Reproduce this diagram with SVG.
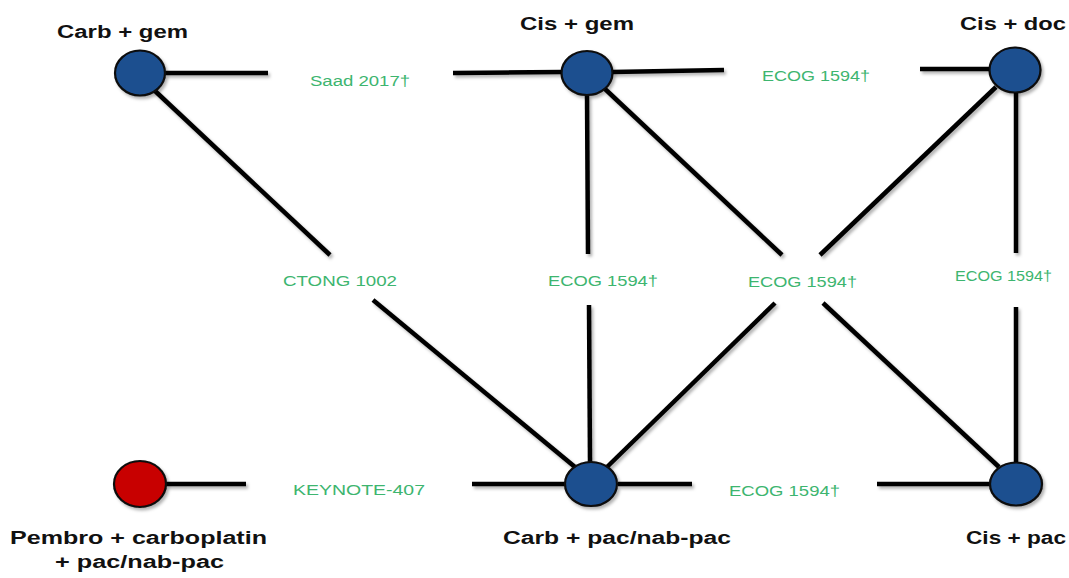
<svg xmlns="http://www.w3.org/2000/svg" width="1069" height="578" viewBox="0 0 1069 578">
  <defs>
    <filter id="sh" x="-20%" y="-20%" width="140%" height="140%">
      <feDropShadow dx="2" dy="2.5" stdDeviation="1.5" flood-color="#000" flood-opacity="0.3"/>
    </filter>
  </defs>
  <style>
    .edge { stroke: #000; stroke-width: 4.5; fill: none; stroke-linecap: butt; }
    .node { fill: #1d4f8f; stroke: #0a0a0a; stroke-width: 2.2; }
    .pem { fill: #c80000; stroke: #0a0a0a; stroke-width: 2.2; }
    .lbl { font-family: "Liberation Sans", Arial, sans-serif; font-weight: bold; font-size: 18px; fill: #111; }
    .trial { font-family: "Liberation Sans", Arial, sans-serif; font-size: 15.5px; fill: #3db56f; }
  </style>
  <rect width="1069" height="578" fill="#fff"/>

  <g id="connectors" filter="url(#sh)">
    <!-- Carb+gem — Cis+gem (Saad 2017) -->
    <line class="edge" x1="165" y1="73" x2="268" y2="73"/>
    <line class="edge" x1="453" y1="73" x2="562" y2="72"/>
    <!-- Cis+gem — Cis+doc -->
    <line class="edge" x1="612" y1="72" x2="724" y2="70"/>
    <line class="edge" x1="920" y1="69" x2="990" y2="69"/>
    <!-- Carb+gem — Carb+pac (CTONG 1002) -->
    <line class="edge" x1="154" y1="90" x2="330" y2="255"/>
    <line class="edge" x1="373" y1="300" x2="575" y2="467"/>
    <!-- Cis+gem — Carb+pac -->
    <line class="edge" x1="587" y1="95" x2="588" y2="254"/>
    <line class="edge" x1="589" y1="305" x2="590" y2="462"/>
    <!-- Cis+gem — Cis+pac -->
    <line class="edge" x1="605" y1="89" x2="782" y2="255"/>
    <line class="edge" x1="823" y1="303" x2="999" y2="467"/>
    <!-- Cis+doc — Carb+pac -->
    <line class="edge" x1="996" y1="87" x2="820" y2="255"/>
    <line class="edge" x1="775" y1="303" x2="607" y2="467"/>
    <!-- Cis+doc — Cis+pac -->
    <line class="edge" x1="1016" y1="92" x2="1016" y2="253"/>
    <line class="edge" x1="1016" y1="307" x2="1016" y2="463"/>
    <!-- Pembro — Carb+pac (KEYNOTE-407) -->
    <line class="edge" x1="166" y1="484" x2="246" y2="484"/>
    <line class="edge" x1="472" y1="484" x2="565" y2="484"/>
    <!-- Carb+pac — Cis+pac -->
    <line class="edge" x1="618" y1="484" x2="692" y2="484"/>
    <line class="edge" x1="877" y1="484" x2="990" y2="484"/>
  </g>

  <g id="edge-labels">
    <text class="trial" x="310" y="86" textLength="100" lengthAdjust="spacingAndGlyphs">Saad 2017†</text>
    <text class="trial" x="762" y="81" textLength="108" lengthAdjust="spacingAndGlyphs">ECOG 1594†</text>
    <text class="trial" x="283" y="286" textLength="114" lengthAdjust="spacingAndGlyphs">CTONG 1002</text>
    <text class="trial" x="548" y="286" textLength="110" lengthAdjust="spacingAndGlyphs">ECOG 1594†</text>
    <text class="trial" x="748" y="287" textLength="109" lengthAdjust="spacingAndGlyphs">ECOG 1594†</text>
    <text class="trial" x="955" y="281" textLength="97" lengthAdjust="spacingAndGlyphs">ECOG 1594†</text>
    <text class="trial" x="293" y="495" textLength="132" lengthAdjust="spacingAndGlyphs">KEYNOTE-407</text>
    <text class="trial" x="729" y="496" textLength="111" lengthAdjust="spacingAndGlyphs">ECOG 1594†</text>
  </g>

  <g id="node-carb-gem">
    <ellipse class="node" cx="140" cy="73" rx="25" ry="22.5" filter="url(#sh)"/>
    <text class="lbl" x="57" y="38" textLength="131" lengthAdjust="spacingAndGlyphs">Carb + gem</text>
  </g>
  <g id="node-cis-gem">
    <ellipse class="node" cx="587" cy="73" rx="25.5" ry="22" filter="url(#sh)"/>
    <text class="lbl" x="520" y="30" textLength="114" lengthAdjust="spacingAndGlyphs">Cis + gem</text>
  </g>
  <g id="node-cis-doc">
    <ellipse class="node" cx="1015" cy="70" rx="25.5" ry="22.5" filter="url(#sh)"/>
    <text class="lbl" x="960" y="30" textLength="106" lengthAdjust="spacingAndGlyphs">Cis + doc</text>
  </g>
  <g id="node-pembro">
    <ellipse class="pem" cx="140" cy="484" rx="26" ry="23" filter="url(#sh)"/>
    <text class="lbl" x="10" y="544" textLength="257" lengthAdjust="spacingAndGlyphs">Pembro + carboplatin</text>
    <text class="lbl" x="55" y="568" textLength="169" lengthAdjust="spacingAndGlyphs">+ pac/nab-pac</text>
  </g>
  <g id="node-carb-pac">
    <ellipse class="node" cx="591" cy="484" rx="26" ry="22" filter="url(#sh)"/>
    <text class="lbl" x="503" y="544" textLength="228" lengthAdjust="spacingAndGlyphs">Carb + pac/nab-pac</text>
  </g>
  <g id="node-cis-pac">
    <ellipse class="node" cx="1016" cy="484" rx="26" ry="21.5" filter="url(#sh)"/>
    <text class="lbl" x="966" y="544" textLength="100" lengthAdjust="spacingAndGlyphs">Cis + pac</text>
  </g>
</svg>
